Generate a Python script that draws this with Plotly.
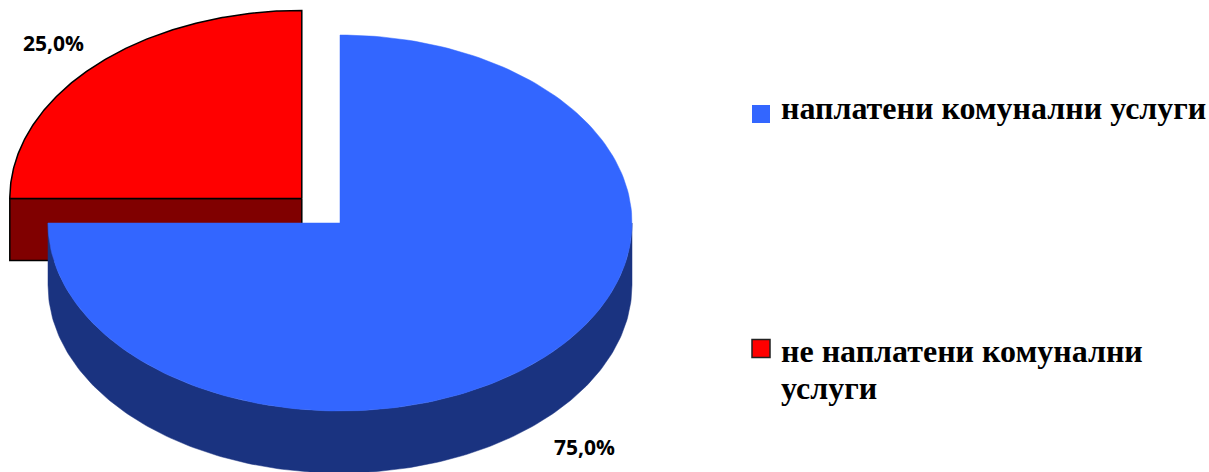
import numpy as np
import plotly.graph_objects as go

# Data
labels = ["наплатени комунални услуги", "не наплатени комунални услуги"]
legend_lines = [["наплатени комунални услуги"], ["не наплатени комунални", "услуги"]]
values = [75.0, 25.0]
explode = [0.0, 0.185]
top_colors = ["#3366FF", "#FF0000"]
side_colors = ["#1A3380", "#800000"]
edge_colors = [None, "#000000"]

# Pie geometry in pixel-like units (y axis grows downwards)
W, H = 1209, 472
CX, CY = 340.0, 223.0
RX, RY = 292.0, 188.0
DEPTH = 62.0
START = 90.0  # first slice starts at 12 o'clock, runs clockwise


def pt(cx, cy, ang_deg, dy=0.0):
    a = np.radians(ang_deg)
    return cx + RX * np.cos(a), cy - RY * np.sin(a) + dy


def arc(cx, cy, a0, a1, dy=0.0, n=200):
    angs = np.linspace(a0, a1, n)
    xs, ys = pt(cx, cy, angs, dy)
    return list(xs), list(ys)


total = sum(values)
slices = []
cum = 0.0
for i, v in enumerate(values):
    a_start = START - 360.0 * cum / total
    a_end = START - 360.0 * (cum + v) / total
    mid = 0.5 * (a_start + a_end)
    ox = explode[i] * RX * np.cos(np.radians(mid))
    oy = -explode[i] * RY * np.sin(np.radians(mid))
    slices.append(dict(i=i, a0=a_start, a1=a_end, mid=mid, cx=CX + ox, cy=CY + oy))
    cum += v

# draw slices lying further back first
order = sorted(slices, key=lambda s: -np.sin(np.radians(s["mid"])))

fig = go.Figure()


def poly(xs, ys, fill, edge):
    fig.add_trace(go.Scatter(
        x=xs + [xs[0]], y=ys + [ys[0]], mode="lines", fill="toself",
        fillcolor=fill,
        line=dict(color=edge if edge else fill, width=1.5 if edge else 0.5),
        hoverinfo="skip", showlegend=False,
    ))


for s in order:
    i, cx, cy, a0, a1 = s["i"], s["cx"], s["cy"], s["a0"], s["a1"]
    edge = edge_colors[i]
    # radial wall on the starting edge, visible when it faces the viewer
    if np.cos(np.radians(a0)) < -1e-6:
        x0, y0 = pt(cx, cy, a0)
        xs = [cx, float(x0), float(x0), cx]
        ys = [cy, float(y0), float(y0) + DEPTH, cy + DEPTH]
        poly(xs, ys, side_colors[i], edge)
    # radial wall on the closing edge
    if np.cos(np.radians(a1)) > 1e-6:
        x1, y1 = pt(cx, cy, a1)
        xs = [cx, float(x1), float(x1), cx]
        ys = [cy, float(y1), float(y1) + DEPTH, cy + DEPTH]
        poly(xs, ys, side_colors[i], edge)
    # outer wall: the part of the rim on the front half of the ellipse
    lo, hi = max(a1, -180.0), min(a0, 0.0)
    if hi > lo:
        ux, uy = arc(cx, cy, hi, lo)
        bx, by = arc(cx, cy, lo, hi, DEPTH)
        poly(ux + bx, uy + by, side_colors[i], edge)
    # top face
    ax, ay = arc(cx, cy, a0, a1)
    poly([cx] + ax, [cy] + ay, top_colors[i], edge)

# percentage labels
pct_pos = [(584, 447), (53, 43)]
for i, v in enumerate(values):
    fig.add_annotation(
        x=pct_pos[i][0], y=pct_pos[i][1], xref="x", yref="y",
        text=f"{v:.1f}%".replace(".", ","), showarrow=False,
        font=dict(family="Open Sans", size=21, color="#000000", weight="bold"),
        xanchor="center", yanchor="middle",
    )

# legend
leg_marker_y = [114, 348.5]
leg_line_y = [[107.5], [350.5, 387.5]]
fig.add_trace(go.Scatter(
    x=[761, 761], y=leg_marker_y, mode="markers",
    marker=dict(symbol="square", size=18, color=top_colors,
                line=dict(color=["#3366FF", "#222222"], width=[0, 1.5])),
    hoverinfo="skip", showlegend=False,
))
for i in range(len(labels)):
    for line, ly in zip(legend_lines[i], leg_line_y[i]):
        fig.add_annotation(
            x=779, y=ly, xref="x", yref="y",
            text=line, showarrow=False, align="left",
            font=dict(family="Liberation Serif", size=32, color="#000000", weight="bold"),
            xanchor="left", yanchor="middle",
        )

fig.update_layout(
    width=W, height=H,
    margin=dict(l=0, r=0, t=0, b=0),
    paper_bgcolor="#FFFFFF", plot_bgcolor="#FFFFFF",
    xaxis=dict(range=[0, W], visible=False, fixedrange=True),
    yaxis=dict(range=[H, 0], visible=False, fixedrange=True),
    showlegend=False,
)

fig.write_html("out.html")
